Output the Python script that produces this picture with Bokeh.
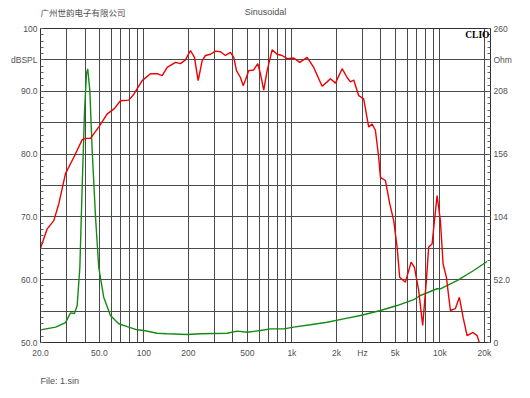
from bokeh.plotting import figure
from bokeh.layouts import column
from bokeh.models import Range1d, LinearAxis, FixedTicker, Label
from bokeh.embed import file_html
from bokeh.resources import INLINE

# SPL response (Hz, dB SPL)
spl_freq = [20, 22.2, 24.6, 26.6, 29.5, 33.6, 38.3, 40.2, 43.5, 49.5,
            56.5, 62.9, 69.4, 79.0, 85.3, 97.3, 110.7, 122.9, 132.8, 143.6,
            163.4, 176.6, 190.8, 206.3, 219.6, 232.6, 247.6, 260.6, 281.6, 304.4,
            329.1, 355.7, 384.4, 404.8, 422.2, 449.2, 468.6, 485.6, 511.2, 552.4,
            587.8, 613.0, 645.4, 680.4, 735.6, 795.0, 859.2, 928.8, 1029, 1130,
            1268, 1405, 1519, 1601, 1731, 1822, 1969, 2186, 2363, 2487,
            2618, 2830, 3058, 3306, 3484, 3668, 3862, 3966, 4286, 4584,
            4878, 5142, 5354, 5852, 6394, 6730, 7196, 7658, 8112, 8406,
            8864, 9582, 10086, 10520, 11074, 11784, 12740, 13558, 14362, 15282,
            16778, 17856, 18306, 18600]
spl_db = [65.0, 68.1, 69.4, 72.1, 76.9, 79.5, 82.3, 82.5, 82.5, 84.3,
          86.4, 87.2, 88.5, 88.6, 89.5, 91.7, 92.8, 92.8, 92.5, 93.8,
          94.6, 94.4, 95.0, 96.5, 95.4, 91.7, 94.9, 95.7, 95.9, 96.4,
          96.3, 95.7, 96.2, 95.4, 93.3, 92.2, 90.9, 91.8, 93.3, 93.4,
          94.4, 92.8, 90.2, 93.3, 96.6, 95.9, 95.7, 95.2, 95.3, 94.6,
          95.4, 93.8, 92.0, 90.8, 91.5, 92.0, 91.3, 93.6, 92.2, 91.5,
          91.8, 89.3, 88.8, 84.3, 84.8, 83.8, 79.5, 76.3, 75.8, 72.1,
          69.4, 65.2, 60.4, 59.6, 62.8, 62.0, 58.3, 52.7, 59.9, 65.2,
          65.7, 73.4, 69.4, 62.5, 60.4, 55.1, 55.4, 57.2, 54.0, 51.1,
          51.6, 51.1, 50.3, 49.8]

# Impedance (Hz, Ohm)
imp_freq = [20, 25.3, 29.5, 31.9, 33.9, 35.4, 36.9, 38.3, 39.7, 40.9,
            41.7, 43.1, 44.7, 47.1, 49.5, 53.5, 59.4, 67.6, 77.1, 90.0,
            100, 122.9, 143.6, 196, 241, 365, 427, 499, 613, 717,
            881, 1029, 1334, 1731, 2240, 2906, 3966, 5142, 6660, 7390,
            9582, 10086, 13078, 16936, 20856]
imp_ohm = [10.5, 12.7, 16.5, 24.5, 24.0, 30.6, 62.3, 131, 192, 222.5,
           226.6, 208.7, 159, 103.7, 62.3, 37.5, 22.4, 15.5, 13.2, 10.5,
           9.9, 7.7, 7.2, 6.6, 7.2, 7.7, 9.4, 8.5, 9.9, 11.3,
           11.3, 12.7, 14.7, 16.8, 19.6, 22.4, 26.5, 30.6, 35.5, 38.9,
           44.5, 44.5, 51.3, 59.6, 67.1]

x_ticks = [20, 50, 100, 200, 500, 1000, 2000, 3000, 5000, 10000, 20000]
x_labels = ["20.0", "50.0", "100", "200", "500", "1k", "2k", "Hz", "5k", "10k", "20k"]
x_grid = [20, 30, 40, 50, 60, 70, 80, 90, 100, 200, 300, 400, 500, 600, 700, 800, 900,
          1000, 2000, 3000, 4000, 5000, 6000, 7000, 8000, 9000, 10000, 20000]
db_ticks = [50, 60, 70, 80, 90, 95, 100]
db_labels = ["50.0", "60.0", "70.0", "80.0", "90.0", "dBSPL", "100"]
db_grid = [55, 60, 65, 70, 75, 80, 85, 90, 95]
ohm_ticks = [0, 52, 104, 156, 208, 234, 260]
ohm_labels = ["0", "52.0", "104", "156", "208", "Ohm", "260"]

title_left = "广州世韵电子有限公司"
title_mid = "Sinusoidal"
file_text = "File: 1.sin"
brand = "CLIO"

TXT = "#505050"
FONT = "Liberation Sans"
W = 514
FRAME_W = 450  # frame width shared by the column (frames are aligned)


def text_strip(h):
    f = figure(width=W, height=h, x_range=Range1d(0, FRAME_W), y_range=Range1d(0, h),
               output_backend="svg", toolbar_location=None,
               x_axis_location=None, y_axis_location=None,
               min_border=0, min_border_left=0, min_border_right=0,
               min_border_top=0, min_border_bottom=0)
    f.outline_line_color = None
    f.grid.visible = False
    return f


top = text_strip(20)
top.add_layout(Label(x=0, y=9, text=title_left, text_font="Noto Sans CJK SC",
                     text_font_size="8.5px", text_color=TXT, text_baseline="middle"))
top.add_layout(Label(x=FRAME_W / 2, y=8.5, text=title_mid, text_font=FONT,
                     text_font_size="9px", text_color=TXT, text_baseline="middle",
                     text_align="center"))

p = figure(width=W, height=350, x_axis_type="log",
           x_range=Range1d(20, 22000), y_range=Range1d(50, 100),
           output_backend="svg", toolbar_location=None,
           min_border_left=40, min_border_right=24,
           min_border_top=8, min_border_bottom=28,
           background_fill_color="white", border_fill_color="white")
p.extra_y_ranges = {"ohm": Range1d(0, 260)}

p.outline_line_color = "#303030"
p.outline_line_width = 1

xa = p.xaxis[0]
xa.ticker = FixedTicker(ticks=x_ticks)
xa.major_label_overrides = {t: l for t, l in zip(x_ticks, x_labels)}

ya = p.yaxis[0]
ya.ticker = FixedTicker(ticks=db_ticks, minor_ticks=list(range(50, 101)))
ya.major_label_overrides = {t: l for t, l in zip(db_ticks, db_labels)}

ra = LinearAxis(y_range_name="ohm",
                ticker=FixedTicker(ticks=ohm_ticks,
                                   minor_ticks=[round(5.2 * i, 1) for i in range(51)]))
ra.major_label_overrides = {t: l for t, l in zip(ohm_ticks, ohm_labels)}
p.add_layout(ra, "right")

for ax in (xa, ya, ra):
    ax.axis_line_color = "#303030"
    ax.major_tick_in = 0
    ax.major_tick_out = 0
    ax.minor_tick_out = 0
    ax.minor_tick_in = 3
    ax.minor_tick_line_color = "#606060"
    ax.major_label_text_font = FONT
    ax.major_label_text_font_size = "8.5px"
    ax.major_label_text_color = TXT
    ax.major_label_standoff = 3
xa.minor_tick_in = 0
xa.major_label_standoff = 5

p.xgrid.ticker = FixedTicker(ticks=x_grid)
p.ygrid.ticker = FixedTicker(ticks=db_grid)
for g in (p.xgrid[0], p.ygrid[0]):
    g.grid_line_color = "#4a4a4a"
    g.grid_line_width = 1
    g.grid_line_alpha = 1

p.line(imp_freq, imp_ohm, y_range_name="ohm", line_color="#138a13", line_width=1.4)
p.line(spl_freq, spl_db, line_color="#ee0000", line_width=1.4)

p.add_layout(Label(x=22000, y=100, x_offset=-1, y_offset=-1, text=brand,
                   text_font="Liberation Serif", text_font_style="bold",
                   text_font_size="9.5px", text_color="#000000",
                   text_baseline="top", text_align="right"))

bottom = text_strip(20)
bottom.add_layout(Label(x=0, y=10, text=file_text, text_font=FONT,
                        text_font_size="9px", text_color=TXT, text_baseline="middle"))

layout = column(top, p, bottom, spacing=0)
open("out.html", "w").write(file_html(layout, INLINE))
